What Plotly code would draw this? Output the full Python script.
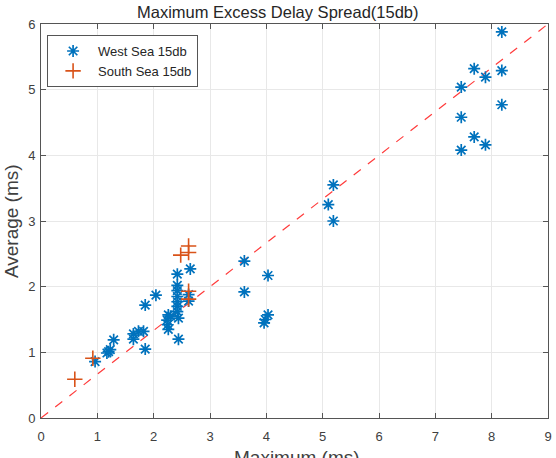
import plotly.graph_objects as go

west_x = [8.18, 7.69, 8.18, 7.89, 7.46, 8.18, 7.46, 7.69, 7.89, 7.46,
          5.19, 5.10, 5.19,
          3.61, 4.03, 3.61, 4.03, 3.98, 3.96,
          2.65, 2.42, 2.42, 2.42, 2.42, 2.42, 2.42, 2.42, 2.44, 2.44,
          2.62, 2.62,
          2.04, 1.85, 2.26, 2.24, 2.25, 2.26, 2.30,
          1.73, 1.64, 1.64, 1.82, 1.85,
          1.29, 1.23, 1.17, 1.20, 0.96]
west_y = [5.88, 5.32, 5.29, 5.19, 5.04, 4.77, 4.58, 4.28, 4.16, 4.08,
          3.55, 3.25, 3.00,
          2.39, 2.17, 1.92, 1.57, 1.50, 1.45,
          2.27, 2.19, 2.02, 1.94, 1.85, 1.77, 1.70, 1.62, 1.52, 1.20,
          1.88, 1.78,
          1.87, 1.72, 1.57, 1.49, 1.42, 1.35, 1.55,
          1.32, 1.28, 1.20, 1.32, 1.05,
          1.19, 1.04, 0.99, 1.01, 0.86]

south_x = [2.62, 2.48, 2.62, 2.62, 2.62, 0.92, 0.60]
south_y = [2.62, 2.48, 2.52, 1.93, 1.81, 0.91, 0.59]

ref_x = [0, 9]
ref_y = [0, 6]

x_ticks = [0, 1, 2, 3, 4, 5, 6, 7, 8, 9]
y_ticks = [0, 1, 2, 3, 4, 5, 6]

blue = "#0072BD"
orange = "#D95319"
FONT = "Liberation Sans, Arial"

fig = go.Figure()
fig.add_trace(go.Scatter(
    x=ref_x, y=ref_y, mode="lines", showlegend=False,
    line=dict(color="#FF3B3B", width=1.2, dash="dash"),
))
fig.add_trace(go.Scatter(
    x=west_x, y=west_y, mode="markers", name="West Sea 15db",
    marker=dict(symbol="asterisk-open", size=10, color=blue,
                line=dict(color=blue, width=1.7)),
))
fig.add_trace(go.Scatter(
    x=south_x, y=south_y, mode="markers", name="South Sea 15db",
    marker=dict(symbol="cross-thin-open", size=11, color=orange,
                line=dict(color=orange, width=1.6)),
))

axis_common = dict(
    showgrid=True, gridcolor="#E8E8E8", gridwidth=1,
    showline=True, linecolor="#555555", linewidth=1, mirror="ticks",
    ticks="inside", ticklen=5, tickcolor="#555555",
    zeroline=False, automargin=False,
    tickfont=dict(family=FONT, size=13, color="#404040"),
)

fig.update_layout(
    width=556, height=458,
    margin=dict(l=41, r=8, t=24, b=40),
    paper_bgcolor="white", plot_bgcolor="white",
    font=dict(family=FONT, color="#262626"),
    title=dict(text="Maximum Excess Delay Spread(15db)", x=0.467, xref="paper",
               xanchor="center", y=0.985, yanchor="top",
               font=dict(size=16.5, color="#262626")),
    xaxis=dict(range=[0, 9], tickvals=x_ticks, ticklabelstandoff=6, **axis_common),
    yaxis=dict(range=[0, 6], tickvals=y_ticks, ticklabelstandoff=2, **axis_common),
    legend=dict(x=0.012, y=0.972, xanchor="left", yanchor="top",
                bgcolor="white", bordercolor="#555555", borderwidth=1,
                font=dict(family=FONT, size=13, color="#262626"),
                itemwidth=40, tracegroupgap=0),
    showlegend=True,
    annotations=[
        dict(text="Maximum (ms)", xref="paper", yref="paper", x=0.504, y=-0.068,
             xanchor="center", yanchor="top", showarrow=False,
             font=dict(family=FONT, size=19, color="#404040")),
        dict(text="Average (ms)", xref="paper", yref="paper", x=-0.059, y=0.5,
             xanchor="center", yanchor="middle", textangle=-90, showarrow=False,
             font=dict(family=FONT, size=19, color="#404040")),
    ],
)

fig.write_html("out.html")
